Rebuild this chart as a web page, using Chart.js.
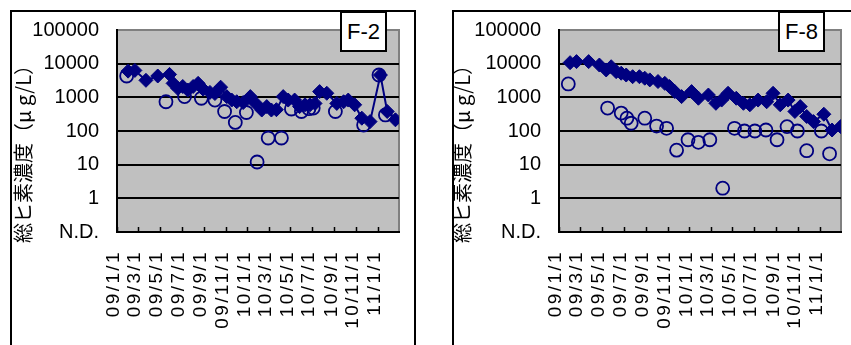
<!DOCTYPE html>
<html>
<head>
<meta charset="utf-8">
<script src="https://cdn.jsdelivr.net/npm/chart.js@4.4.1/dist/chart.umd.min.js"></script>
<style>
    body { margin: 0; background: #fff; width: 851px; height: 345px; overflow: hidden; position: relative; }
    .panel { position: absolute; top: 10px; height: 400px; border: 2px solid #000; box-sizing: border-box; background: #fff; }
    .panel canvas { position: absolute; left: 0; top: 0; }
    .tag { position: absolute; top: -1px; width: 47px; height: 41px; border: 2px solid #000; box-sizing: border-box; background: #fff;
           font: 22px "Liberation Sans", Arial, sans-serif; line-height: 37px; text-align: center; }
</style>
</head>
<body>
<div class="panel" style="left:10px;width:406px;">
    <canvas id="chart-f2" width="402" height="333"></canvas>
    <div class="tag" style="left:328px;">F-2</div>
</div>
<div class="panel" style="left:452px;width:420px;">
    <canvas id="chart-f8" width="397" height="333"></canvas>
    <div class="tag" style="left:324px;">F-8</div>
</div>
<script>
// Axes
const tickLabels = ['09/1/1', '09/3/1', '09/5/1', '09/7/1', '09/9/1', '09/11/1', '10/1/1', '10/3/1', '10/5/1', '10/7/1', '10/9/1', '10/11/1', '11/1/1'];
const axisEnd = '11/3/1';
const yTickValues = [0.1, 1, 10, 100, 1000, 10000, 100000];
const yTickLabels = ['N.D.', '1', '10', '100', '1000', '10000', '100000'];
const yTitle = '総ヒ素濃度（μ g/L）';

// F-2
const f2DiamondDates = ['09/2/1', '09/2/20', '09/3/23', '09/4/25', '09/5/28', '09/6/7', '09/6/20', '09/7/4', '09/7/18', '09/8/2',
    '09/8/16', '09/8/30', '09/9/18', '09/10/2', '09/10/18', '09/11/4', '09/11/18', '09/12/2', '09/12/20', '10/1/9',
    '10/1/23', '10/2/10', '10/2/24', '10/3/9', '10/3/23', '10/4/11', '10/4/25', '10/5/13', '10/5/27', '10/6/11',
    '10/6/25', '10/7/9', '10/7/22', '10/8/11', '10/9/8', '10/9/27', '10/10/10', '10/10/28', '10/11/17', '10/12/10',
    '11/1/8', '11/1/27', '11/2/19'];
const f2DiamondValues = [6000, 6300, 3200, 4300, 4800, 2600, 1850, 2100, 1650, 2100,
    2600, 1750, 1400, 1300, 2000, 1050, 830, 740, 700, 1050,
    680, 420, 530, 420, 430, 1050, 830, 830, 530, 600,
    600, 660, 1480, 1320, 660, 740, 830, 600, 240, 190,
    4600, 380, 215];
const f2CircleDates = ['09/1/28', '09/5/18', '09/7/9', '09/8/25', '09/10/2', '09/10/29', '09/11/28', '09/12/29', '10/1/28', '10/2/28',
    '10/4/6', '10/5/4', '10/6/1', '10/6/22', '10/7/4', '10/9/4', '10/11/22', '11/1/4', '11/1/22'];
const f2CircleValues = [4300, 740, 1050, 940, 830, 380, 180, 355, 12, 62,
    62, 450, 380, 460, 480, 380, 150, 4600, 300];

// F-8
const f8DiamondDates = ['09/2/1', '09/2/19', '09/3/25', '09/4/24', '09/5/13', '09/5/27', '09/6/10', '09/6/24', '09/7/8', '09/7/26',
    '09/8/14', '09/8/29', '09/9/12', '09/10/5', '09/10/24', '09/11/6', '09/11/21', '09/12/10', '10/1/7', '10/1/26',
    '10/2/23', '10/3/16', '10/4/1', '10/4/19', '10/5/12', '10/6/1', '10/6/19', '10/7/12', '10/8/5', '10/8/23',
    '10/9/12', '10/10/4', '10/10/23', '10/11/7', '10/11/25', '10/12/14', '11/1/12', '11/2/4', '11/2/28'];
const f8DiamondValues = [10700, 11500, 11500, 9100, 6500, 8100, 5800, 5200, 4600, 4100,
    4100, 3700, 3300, 2950, 2600, 2100, 1480, 1050, 1480, 940,
    1170, 665, 830, 1320, 940, 665, 600, 830, 740, 1320,
    600, 830, 380, 530, 270, 190, 315, 107, 135];
const f8CircleDates = ['09/1/27', '09/5/17', '09/6/24', '09/7/10', '09/7/22', '09/8/29', '09/10/1', '09/10/29', '09/11/26', '09/12/28',
    '10/1/26', '10/2/27', '10/4/4', '10/5/7', '10/6/4', '10/7/3', '10/8/3', '10/9/3', '10/10/1', '10/10/30',
    '10/11/25', '11/1/5', '11/1/28'];
const f8CircleValues = [2500, 480, 340, 240, 170, 240, 140, 120, 27, 55,
    46, 55, 2.0, 120, 100, 100, 107, 55, 135, 100,
    26, 100, 21];

const NAVY = '#000080';
const FONT = '"Liberation Sans", Arial, sans-serif';

// 'yy/m/d' -> jours depuis 09/1/1
function toDay(label) {
    const [y, m, d] = label.split('/').map(Number);
    return (Date.UTC(2000 + y, m - 1, d) - Date.UTC(2009, 0, 1)) / 86400000;
}

function toPoints(dates, values) {
    return dates.map((d, i) => ({ x: toDay(d), y: values[i] }));
}

// Fond gris, bord gris haut/droite, graduations vers l'intérieur, étiquettes de dates et titre vertical
const plotFrame = {
    id: 'plotFrame',
    beforeDraw(chart) {
        const { ctx, chartArea: a } = chart;
        ctx.save();
        ctx.fillStyle = '#c0c0c0';
        ctx.fillRect(a.left, a.top, a.right - a.left, a.bottom - a.top);
        ctx.strokeStyle = '#808080';
        ctx.lineWidth = 2;
        ctx.beginPath();
        ctx.moveTo(a.left, a.top);
        ctx.lineTo(a.right, a.top);
        ctx.lineTo(a.right, a.bottom);
        ctx.stroke();
        ctx.restore();
    },
    beforeDatasetsDraw(chart) {
        const { ctx, chartArea: a } = chart;
        const xScale = chart.scales.x;
        ctx.save();
        ctx.strokeStyle = '#000';
        ctx.lineWidth = 1.5;
        ctx.beginPath();
        xScale.ticks.forEach(t => {
            const px = Math.round(xScale.getPixelForValue(t.value)) + 0.5;
            ctx.moveTo(px, a.bottom);
            ctx.lineTo(px, a.bottom - 5);
        });
        ctx.stroke();
        ctx.restore();
    },
    afterDraw(chart, args, opts) {
        const { ctx, chartArea: a } = chart;
        const xScale = chart.scales.x;

        // étiquettes verticales, lues de bas en haut
        ctx.save();
        ctx.fillStyle = '#000';
        ctx.font = '19px ' + FONT;
        ctx.letterSpacing = '2.4px';
        ctx.textAlign = 'right';
        ctx.textBaseline = 'middle';
        xScale.ticks.forEach((t, i) => {
            ctx.save();
            ctx.translate(xScale.getPixelForValue(t.value) - 3, a.bottom + 18);
            ctx.rotate(-Math.PI / 2);
            ctx.fillText(tickLabels[i], 0, 0);
            ctx.restore();
        });
        ctx.restore();

        ctx.save();
        ctx.translate(opts.titleX, a.bottom - 83);
        ctx.rotate(-Math.PI / 2);
        ctx.textAlign = 'center';
        ctx.textBaseline = 'middle';
        ctx.fillStyle = '#000';
        ctx.font = '20px "Noto Sans CJK JP", sans-serif';
        ctx.fillText(yTitle, 0, 0);
        ctx.restore();
    }
};

function renderPanel(canvasId, diamondDates, diamondValues, circleDates, circleValues, padRight, titleX) {
    const ctx = document.getElementById(canvasId);
    return new Chart(ctx, {
        type: 'line',
        data: {
            datasets: [{
                data: toPoints(diamondDates, diamondValues),
                borderColor: NAVY,
                borderWidth: 2,
                backgroundColor: NAVY,
                pointStyle: 'rectRot',
                pointRadius: 7,
                pointBorderWidth: 1,
                pointBackgroundColor: NAVY,
                pointBorderColor: NAVY,
                tension: 0
            }, {
                data: toPoints(circleDates, circleValues),
                showLine: false,
                borderColor: NAVY,
                backgroundColor: 'rgba(0,0,0,0)',
                pointStyle: 'circle',
                pointRadius: 6.5,
                pointBorderWidth: 1.8,
                pointBackgroundColor: 'rgba(0,0,0,0)',
                pointBorderColor: NAVY
            }]
        },
        options: {
            responsive: false,
            animation: false,
            devicePixelRatio: 1,
            layout: { padding: { top: 18, right: padRight, left: 0, bottom: 0 } },
            plugins: {
                legend: { display: false },
                tooltip: { enabled: false },
                plotFrame: { titleX: titleX }
            },
            scales: {
                x: {
                    type: 'linear',
                    min: toDay(tickLabels[0]),
                    max: toDay(axisEnd),
                    afterBuildTicks: scale => {
                        scale.ticks = tickLabels.map(l => ({ value: toDay(l) }));
                    },
                    afterFit: scale => {
                        scale.height = 113;
                        scale.paddingLeft = 0;
                        scale.paddingRight = 0;
                    },
                    grid: { display: false, drawTicks: false },
                    border: { display: true, color: '#000', width: 2 },
                    ticks: { display: false, autoSkip: false }
                },
                y: {
                    type: 'logarithmic',
                    min: 0.1,
                    max: 100000,
                    afterBuildTicks: scale => {
                        scale.ticks = yTickValues.map(v => ({ value: v }));
                    },
                    afterFit: scale => {
                        scale.width = 105;
                        scale.paddingTop = 0;
                        scale.paddingBottom = 0;
                    },
                    grid: {
                        drawTicks: false,
                        lineWidth: 2,
                        color: c => (c.tick && c.tick.value === 100000) ? 'rgba(0,0,0,0)' : '#000'
                    },
                    border: { display: true, color: '#000', width: 2 },
                    ticks: {
                        padding: 18,
                        color: '#000',
                        font: { family: FONT, size: 20 },
                        callback: (v, i) => yTickLabels[i]
                    }
                }
            }
        },
        plugins: [plotFrame]
    });
}

renderPanel('chart-f2', f2DiamondDates, f2DiamondValues, f2CircleDates, f2CircleValues, 15, 11);
renderPanel('chart-f8', f8DiamondDates, f8DiamondValues, f8CircleDates, f8CircleValues, 10, 8);
</script>
</body>
</html>
